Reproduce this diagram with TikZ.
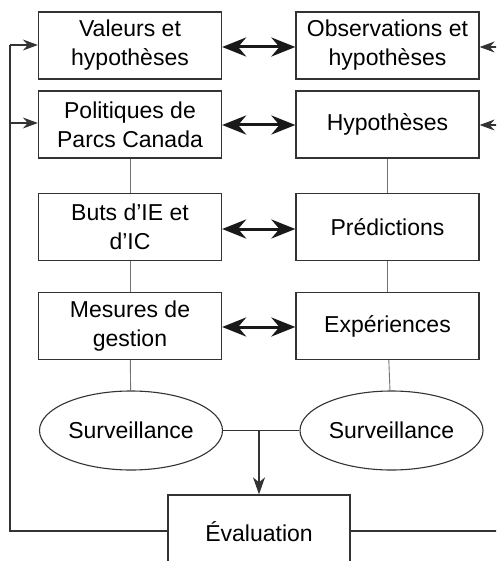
\documentclass[tikz,border=0pt]{standalone}
\usepackage{fontspec}
\setmainfont{Liberation Sans}
\usetikzlibrary{arrows.meta,shapes.geometric}
\begin{document}
\begin{tikzpicture}[x=1pt,y=-1pt,
  box/.style={draw=black!80,line width=1.3pt,minimum width=183pt,minimum height=67pt,inner sep=0pt,align=center,font=\fontsize{23}{29}\selectfont},
  oval/.style={draw=black!80,line width=1.1pt,ellipse,minimum width=183pt,minimum height=79pt,inner sep=0pt,font=\fontsize{23}{29}\selectfont},
  thin/.style={draw=black!55,line width=0.9pt},
  fb/.style={draw=black!80,line width=1.1pt},
  thinarrow/.style={fb,-{Stealth[length=15pt,width=11pt,inset=5pt]}},
  dbl/.style={draw=black!90,line width=3pt,{Stealth[length=24pt,width=19pt,inset=8pt]}-{Stealth[length=24pt,width=19pt,inset=8pt]}}
]
\clip (0,0) rectangle (496,561);
\useasboundingbox (0,0) rectangle (496,561);

\node[box] (v) at (130,45.5) {Valeurs et\\hypothèses};
\node[box] (p) at (130,124.5) {Politiques de\\Parcs Canada};
\node[box] (b) at (130,227) {Buts d’IE et\\d’IC};
\node[box] (m) at (130,326) {Mesures de\\gestion};
\node[oval] (s1) at (131,430.5) {Surveillance};

\node[box] (o) at (387.5,45.5) {Observations et\\hypothèses};
\node[box] (h) at (387.5,124.5) {Hypothèses};
\node[box] (pr) at (387.5,227) {Prédictions};
\node[box] (e) at (387.5,326) {Expériences};
\node[oval] (s2) at (391.5,430.5) {Surveillance};

\node[box,minimum width=182pt,minimum height=74pt] (ev) at (259,532) {Évaluation};

% thick double arrows
\draw[dbl] (v.east |- 0,47) -- (o.west |- 0,47);
\draw[dbl] (p.east |- 0,125) -- (h.west |- 0,125);
\draw[dbl] (b.east |- 0,229) -- (pr.west |- 0,229);
\draw[dbl] (m.east |- 0,327) -- (e.west |- 0,327);

% vertical thin links
\draw[thin] (p) -- (b);
\draw[thin] (b) -- (m);
\draw[thin] (m) -- (s1);
\draw[thin] (h) -- (pr);
\draw[thin] (pr) -- (e);
\draw[thin] (e) -- (s2);

% monitoring to evaluation
\coordinate (j) at (259,431);
\draw[fb] (s1.east) -- (s2.west);
\draw[fb,-{Stealth[length=17pt,width=12pt,inset=5pt]}] (j) -- (ev.north);

% feedback loops
\coordinate (lb) at (10,531);
\coordinate (lt) at (10,45);
\coordinate (lm) at (10,123);
\draw[fb] (ev.west |- lb) -- (lb) -- (lt);
\draw[thinarrow] (lt) -- (v.west |- lt);
\draw[thinarrow] (lm) -- (p.west |- lm);

\coordinate (rb) at (500,531);
\coordinate (rt) at (500,47);
\coordinate (rm) at (500,125);
\draw[fb] (ev.east |- rb) -- (rb);
\draw[thinarrow] (rt) -- (o.east |- rt);
\draw[thinarrow] (rm) -- (h.east |- rm);
\end{tikzpicture}
\end{document}
